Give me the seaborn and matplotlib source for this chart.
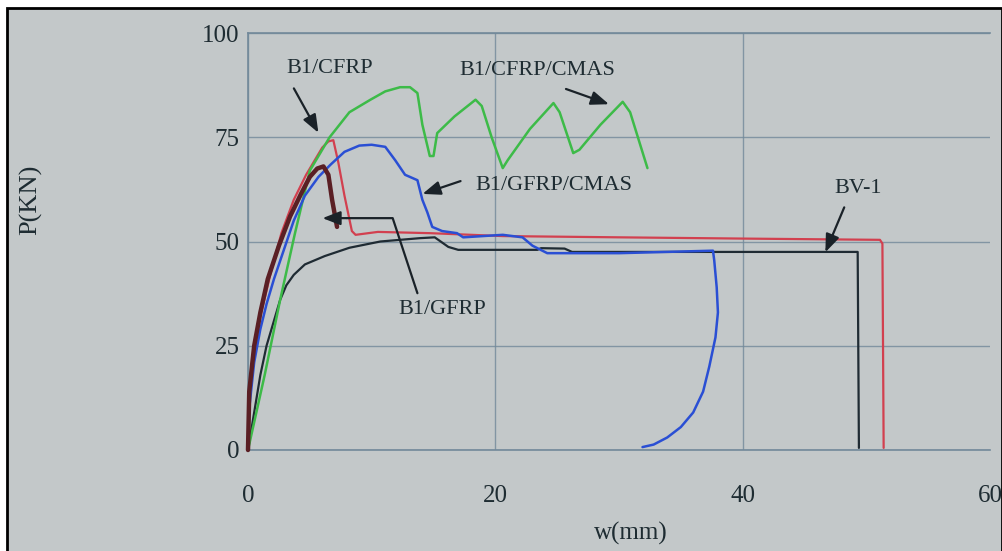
import numpy as np
import pandas as pd
import matplotlib
matplotlib.use("Agg")
import matplotlib.pyplot as plt
from matplotlib.patches import Rectangle
import seaborn as sns

# ---------------- data ----------------
x_ticks = [0, 20, 40, 60]
y_ticks = [0, 25, 50, 75, 100]

# BV-1 (control beam, black)
bv1_w = [0, 0.5, 1.0, 1.5, 2.1, 2.6, 3.1, 3.7, 4.6, 6.2, 8.2, 10.7, 13.9, 15.1, 16.2, 17.0,
         23.4, 23.7, 25.6, 26.2, 49.3, 49.4]
bv1_p = [0, 9, 18, 25, 31, 36, 39.5, 42, 44.5, 46.5, 48.5, 50, 50.8, 51, 48.7, 48,
         48, 48.4, 48.3, 47.5, 47.5, 0.5]

# B1/CFRP (red)
cfrp_w = [0, 0.1, 0.5, 1.0, 1.8, 2.7, 3.7, 4.7, 5.5, 6.0, 6.5, 6.9, 7.3, 7.8, 8.4, 8.7,
          10.5, 14.7, 20.6, 30, 40, 51.1, 51.3, 51.4]
cfrp_p = [0, 12, 23, 32, 42, 52, 60, 66, 70, 72.5, 74, 74.3, 69, 61, 52.5, 51.6,
          52.3, 52, 51.3, 51, 50.7, 50.4, 49.5, 0.5]

# B1/GFRP (thick dark red)
gfrp_w = [0, 0.1, 0.5, 1.0, 1.6, 2.5, 3.4, 4.3, 5.0, 5.6, 6.1, 6.5, 6.8, 7.2]
gfrp_p = [0, 14, 25, 33, 41, 49, 56, 61.5, 65.5, 67.5, 68, 66, 60, 53.5]

# B1/CFRP/CMAS (green)
cfrpc_w = [0, 1.35, 2.6, 3.8, 5.0, 6.6, 8.2, 9.9, 11.1, 12.3, 13.1, 13.7, 14.1, 14.7, 15.0,
           15.3, 16.7, 18.4, 18.9, 19.7, 20.6, 21.0, 22.8, 24.7, 25.2, 26.3, 26.8, 28.5,
           30.3, 30.9, 32.3]
cfrpc_p = [0, 18, 36, 52, 67, 75, 81, 84, 86, 87, 87, 85.6, 78, 70.5, 70.5,
           76, 80, 84, 82.5, 75, 67.6, 69.5, 77, 83.2, 81, 71.2, 72, 78,
           83.5, 81, 67.6]

# B1/GFRP/CMAS (blue)
gfrpc_w = [0, 0.1, 0.5, 1.0, 1.5, 2.1, 2.9, 3.7, 4.6, 5.7, 6.7, 7.8, 9.0, 10.0, 11.1, 11.9,
           12.7, 13.7, 14.1, 14.5, 14.9, 15.7, 16.9, 17.4, 20.6, 22.2, 23.0, 24.2, 30, 37.6,
           37.7, 37.9, 38.0, 37.8, 37.3, 36.8, 36.0, 35.0, 33.9, 32.8, 31.9]
gfrpc_p = [0, 10, 21, 29, 35, 41, 48, 55, 61, 65.5, 68.5, 71.5, 73, 73.2, 72.7, 69.5,
           66, 64.7, 60, 57, 53.5, 52.5, 52, 51, 51.6, 51, 49, 47.2, 47.2, 47.8,
           45.5, 39, 33, 27, 20, 14, 9, 5.5, 3, 1.3, 0.7]

series = [
    ("BV-1", bv1_w, bv1_p, "#1f2b33", 1.6),
    ("B1/CFRP", cfrp_w, cfrp_p, "#d2404f", 1.6),
    ("B1/CFRP/CMAS", cfrpc_w, cfrpc_p, "#3dbb48", 1.8),
    ("B1/GFRP/CMAS", gfrpc_w, gfrpc_p, "#2a4fd4", 1.8),
    ("B1/GFRP", gfrp_w, gfrp_p, "#5a1f24", 3.2),
]

# ---------------- figure ----------------
sns.set_theme(style="whitegrid")
plt.rcParams["font.family"] = ["Liberation Serif", "DejaVu Serif"]

BG = "#c3c8c9"
GRID = "#72899a"
TXT = "#1e2c32"

fig = plt.figure(figsize=(10.03, 5.51), dpi=100, facecolor="white")
frame = Rectangle((0.007, -0.1), 0.992, 1.0855, transform=fig.transFigure,
                  facecolor=BG, edgecolor="black", lw=2.0, zorder=-10)
fig.patches.append(frame)

ax = fig.add_axes([248 / 1003, 1 - 450 / 551, 742 / 1003, 417 / 551])
ax.set_facecolor("none")

for name, w, p, col, lw in series:
    df = pd.DataFrame({"w": w, "P": p})
    sns.lineplot(data=df, x="w", y="P", sort=False, estimator=None, color=col,
                 linewidth=lw, ax=ax, clip_on=False, zorder=3)

ax.set_xlim(0, 60)
ax.set_ylim(0, 100)
ax.set_xticks(x_ticks)
ax.set_yticks(y_ticks)
ax.grid(True, color=GRID, lw=1.0, alpha=0.8)
ax.get_xgridlines()[-1].set_visible(False)
for s in ["left", "top", "bottom"]:
    ax.spines[s].set_visible(True)
    ax.spines[s].set_color(GRID)
    ax.spines[s].set_linewidth(1.2)
ax.spines["right"].set_visible(False)

ax.tick_params(axis="both", length=0, labelsize=18, colors=TXT)
ax.tick_params(axis="x", pad=25)
ax.tick_params(axis="y", pad=6)

ax.set_xlabel("w(mm)", fontsize=18, color=TXT)
ax.xaxis.set_label_coords(0.516, -0.172)
ax.set_ylabel("P(KN)", fontsize=19, color=TXT)
ax.yaxis.set_label_coords(-0.278, 0.6)

# ---------------- annotations ----------------
akw = dict(arrowstyle="-|>,head_length=0.9,head_width=0.35", color="#1a2228", lw=1.6)
tkw = dict(fontsize=16, color=TXT, ha="center", va="center")

ax.text(6.6, 91.6, "B1/CFRP", **tkw)
ax.annotate("", xy=(5.8, 75.5), xytext=(3.6, 87.3), arrowprops=akw)

ax.text(23.4, 91.1, "B1/CFRP/CMAS", **tkw)
ax.annotate("", xy=(29.4, 82.7), xytext=(25.5, 86.8), arrowprops=akw)

ax.text(24.7, 63.5, "B1/GFRP/CMAS", **tkw)
ax.annotate("", xy=(13.9, 61.2), xytext=(17.4, 64.7), arrowprops=akw)

ax.text(49.3, 62.8, "BV-1", **tkw)
ax.annotate("", xy=(46.6, 46.8), xytext=(48.3, 58.8), arrowprops=akw)

ax.text(15.7, 33.6, "B1/GFRP", **tkw)
ax.plot([13.7, 11.7, 8.0], [37.6, 55.6, 55.6], color="#1a2228", lw=1.6, zorder=4)
ax.annotate("", xy=(5.8, 55.6), xytext=(8.2, 55.6), arrowprops=akw)

fig.savefig("out.png", dpi=100, facecolor="white")
